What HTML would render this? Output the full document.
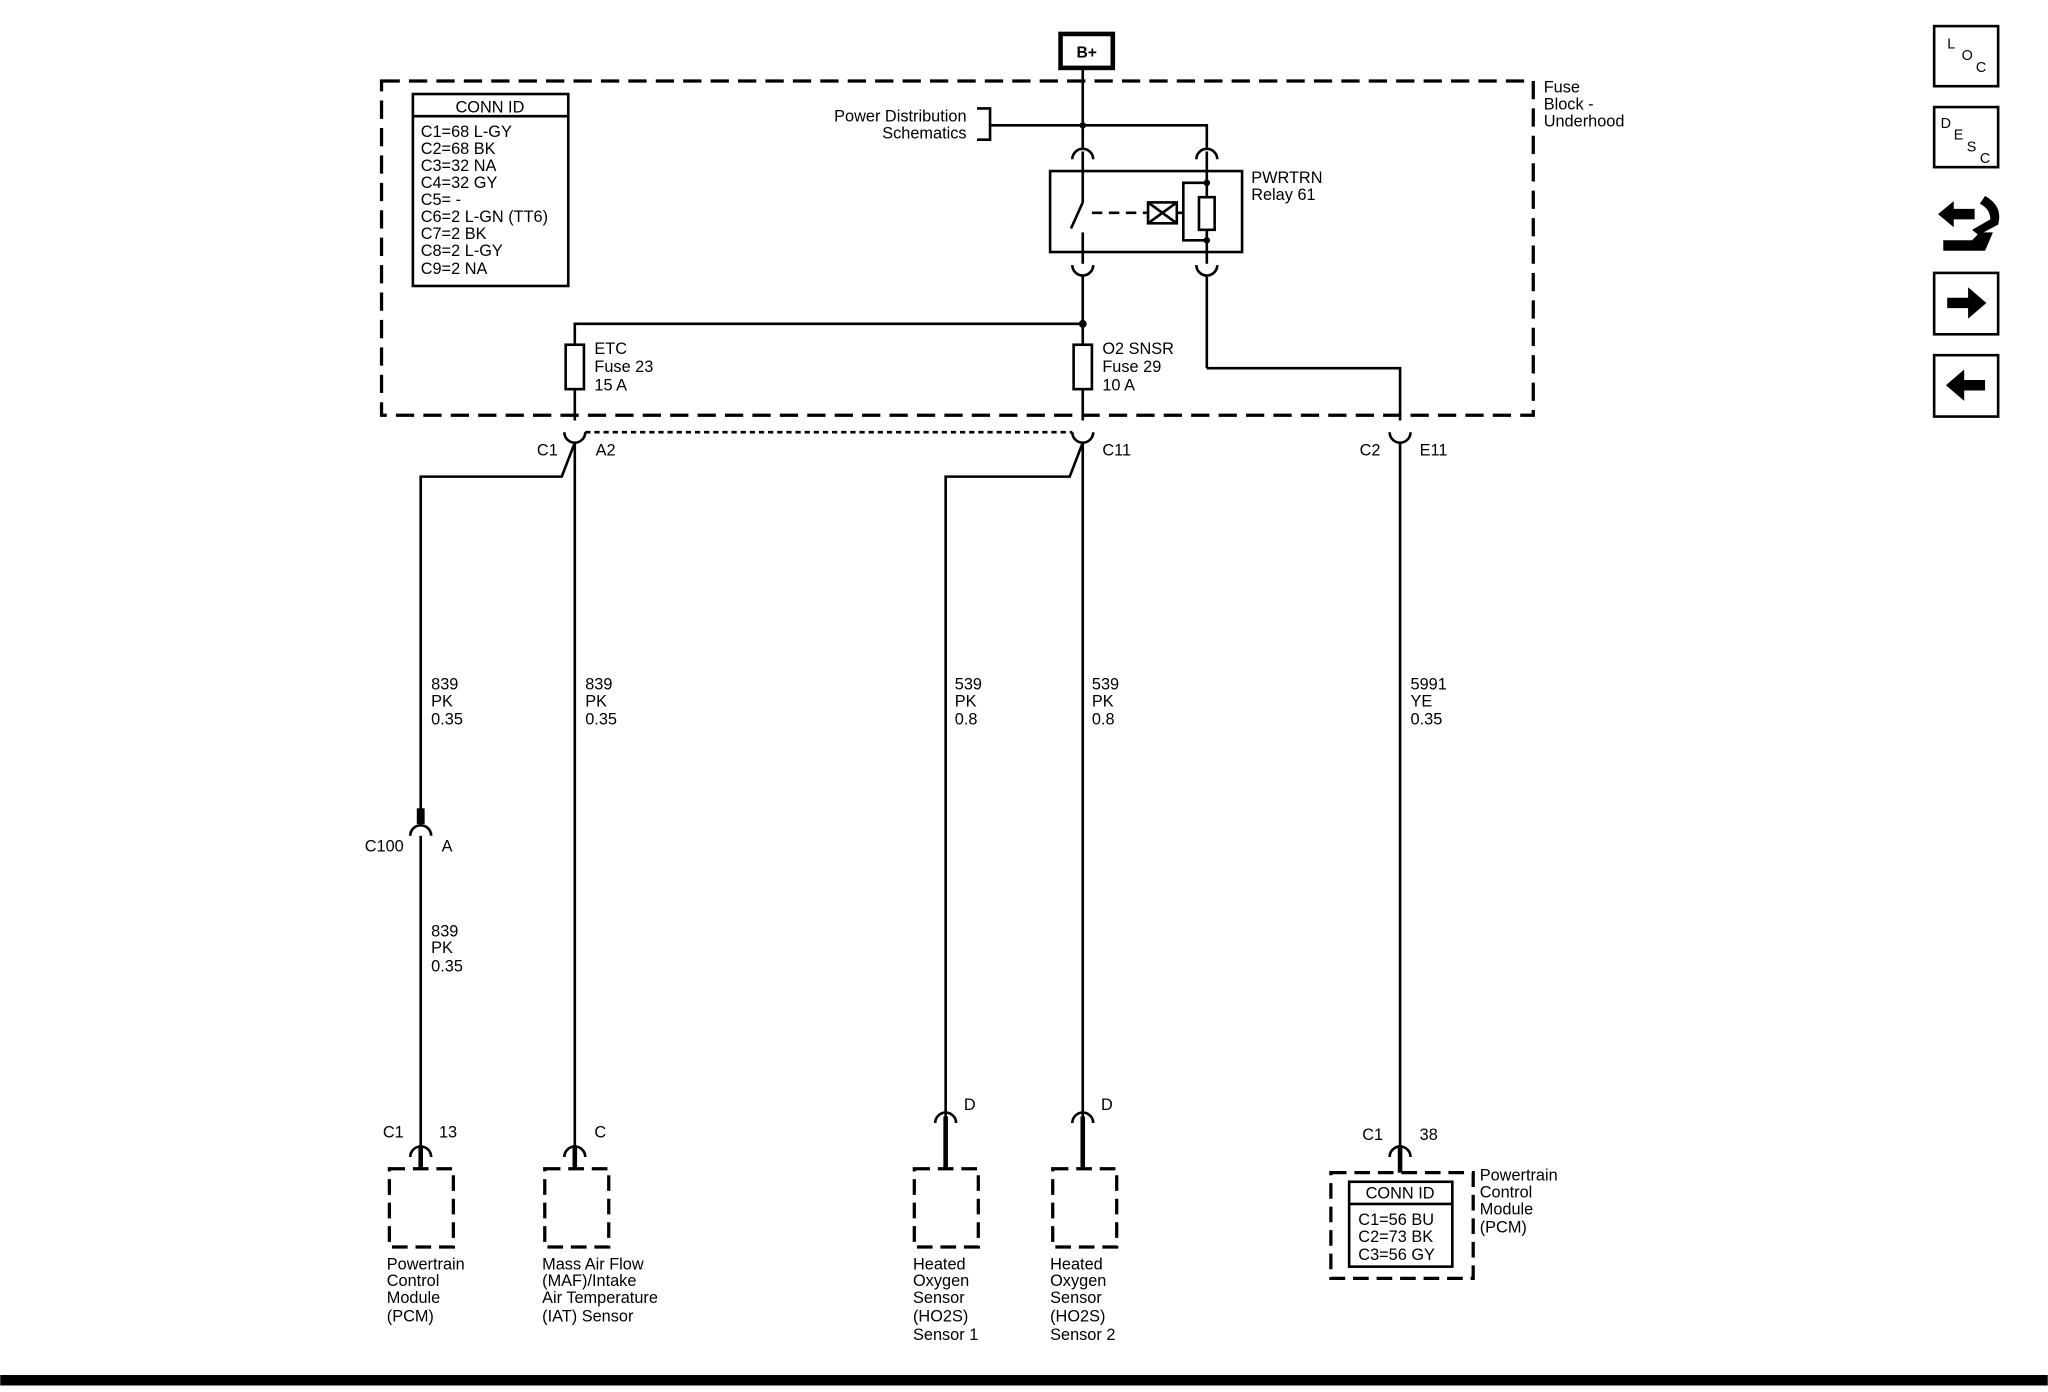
<!DOCTYPE html>
<html><head><meta charset="utf-8"><style>
html,body{margin:0;padding:0;background:#fff;}
svg{display:block;}
text{font-family:"Liberation Sans",Arial,sans-serif;font-size:12.5px;fill:#000;}
</style></head><body>
<svg width="2048" height="1392" viewBox="0 0 1568 1066" xmlns="http://www.w3.org/2000/svg">
<g stroke="#000" fill="none" stroke-width="2">
<!-- B+ -->
<rect x="812" y="26" width="40" height="26" stroke-width="3.5"/>
<!-- fuse block -->
<rect x="292" y="62" width="882" height="256" stroke-dasharray="14,7" stroke-width="2.5"/>
<!-- conn id table -->
<rect x="316" y="72" width="119" height="147"/>
<line x1="316" y1="89" x2="435" y2="89"/>
<!-- main vertical -->
<line x1="829" y1="52" x2="829" y2="113"/>
<!-- power dist bracket -->
<path d="M748 83 H758 V107 H748 M758 96 H924 V113"/>
<!-- connectors top -->
<path d="M821 122 A8 8 0 0 1 837 122 M916 122 A8 8 0 0 1 932 122"/>
<line x1="829" y1="116" x2="829" y2="155"/>
<line x1="924" y1="116" x2="924" y2="151"/>
<!-- relay -->
<rect x="804" y="131" width="147" height="62"/>
<line x1="829" y1="155" x2="820" y2="175"/>
<line x1="829" y1="178" x2="829" y2="202"/>
<line x1="836" y1="163" x2="878" y2="163" stroke-dasharray="8,5"/>
<rect x="879" y="155" width="22" height="16"/>
<path d="M879 155 L901 171 M901 155 L879 171"/>
<rect x="918" y="151" width="12" height="25"/>
<path d="M924 176 V202 M924 140 H906 V184 H924"/>
<line x1="901" y1="163" x2="906" y2="163"/>
<path d="M821 203 A8 8 0 0 0 837 203 M916 203 A8 8 0 0 0 932 203"/>
<line x1="829" y1="211" x2="829" y2="264"/>
<line x1="924" y1="211" x2="924" y2="282"/>
<path d="M924 282 H1072 V322"/>
<!-- etc line -->
<path d="M829 248 H440 V264"/>
<rect x="433" y="264" width="14" height="34"/>
<rect x="822" y="264" width="14" height="34"/>
<line x1="440" y1="298" x2="440" y2="322"/>
<line x1="829" y1="298" x2="829" y2="322"/>
<!-- lower connectors -->
<path d="M432 331 A8 8 0 0 0 448 331 M821 331 A8 8 0 0 0 837 331 M1064 331 A8 8 0 0 0 1080 331"/>
<line x1="448" y1="331" x2="821" y2="331" stroke-dasharray="4,3"/>
<path d="M440 339 V880 M440 339 L430 365 H322 V625"/>
<path d="M829 339 V855 M829 339 L819 365 H724 V855"/>
<line x1="1072" y1="339" x2="1072" y2="877"/>
<!-- C100 -->
<rect x="320" y="620" width="4" height="10" fill="#000"/>
<path d="M314 640 A8 8 0 0 1 330 640"/>
<line x1="322" y1="640" x2="322" y2="877"/>
<!-- bottom connectors -->
<path d="M314 886 A8 8 0 0 1 330 886 M432 886 A8 8 0 0 1 448 886 M716 860 A8 8 0 0 1 732 860 M821 860 A8 8 0 0 1 837 860 M1064 886 A8 8 0 0 1 1080 886"/>
<g stroke-width="3.5">
<line x1="322" y1="877" x2="322" y2="895"/><line x1="440" y1="877" x2="440" y2="895"/>
<line x1="724" y1="855" x2="724" y2="895"/><line x1="829" y1="855" x2="829" y2="895"/>
<line x1="1072" y1="877" x2="1072" y2="898"/>
</g>
<g stroke-dasharray="12,6" stroke-width="2.5">
<rect x="298" y="895" width="49" height="60"/>
<rect x="417" y="895" width="49" height="60"/>
<rect x="700" y="895" width="49" height="60"/>
<rect x="806" y="895" width="49" height="60"/>
<rect x="1019" y="898" width="109" height="81"/>
</g>
<rect x="1033" y="905" width="79" height="65"/>
<line x1="1033" y1="922" x2="1112" y2="922"/>
<!-- right icons -->
<rect x="1481" y="20" width="49" height="46"/>
<rect x="1481" y="82" width="49" height="46"/>
<rect x="1481" y="209" width="49" height="47"/>
<rect x="1481" y="272" width="49" height="47"/>
</g>
<g fill="#000">
<circle cx="829" cy="96" r="2.5"/><circle cx="924" cy="140" r="2.5"/><circle cx="924" cy="184" r="2.5"/><circle cx="829" cy="248" r="3"/>
<path d="M1491 228 H1507 V220 L1521 232 L1507 244 V236 H1491 Z"/>
<path d="M1520 291 H1504 V283 L1490 295 L1504 307 V299 H1520 Z"/>
<path d="M1484 164 L1496 154 V160 H1512 V168 H1496 V174 Z"/>
<path d="M1520 150 Q1534 158 1530 172 L1515 180 L1510 176 L1524 168 Q1524 160 1516 156 Z"/>
<path d="M1488 184 H1510 L1516 178 H1526 L1520 192 H1488 Z"/>
<rect x="0" y="1053" width="1568" height="8"/>
</g>
<text x="832" y="44" text-anchor="middle" font-weight="bold" style="font-size:12px">B+</text>
<text x="375" y="86" text-anchor="middle">CONN ID</text>
<g>
<text x="322" y="105">C1=68 L-GY</text><text x="322" y="118">C2=68 BK</text><text x="322" y="131">C3=32 NA</text>
<text x="322" y="144">C4=32 GY</text><text x="322" y="157">C5= -</text><text x="322" y="170">C6=2 L-GN (TT6)</text>
<text x="322" y="183">C7=2 BK</text><text x="322" y="196">C8=2 L-GY</text><text x="322" y="210">C9=2 NA</text>
</g>
<text x="740" y="93" text-anchor="end">Power Distribution</text>
<text x="740" y="106" text-anchor="end">Schematics</text>
<text x="1182" y="71">Fuse</text><text x="1182" y="84">Block -</text><text x="1182" y="97">Underhood</text>
<text x="958" y="140">PWRTRN</text><text x="958" y="153">Relay 61</text>
<text x="455" y="271">ETC</text><text x="455" y="285">Fuse 23</text><text x="455" y="299">15 A</text>
<text x="844" y="271">O2 SNSR</text><text x="844" y="285">Fuse 29</text><text x="844" y="299">10 A</text>
<text x="411" y="349">C1</text><text x="456" y="349">A2</text><text x="844" y="349">C11</text>
<text x="1041" y="349">C2</text><text x="1087" y="349">E11</text>
<text x="330" y="528">839</text><text x="330" y="541">PK</text><text x="330" y="555">0.35</text>
<text x="448" y="528">839</text><text x="448" y="541">PK</text><text x="448" y="555">0.35</text>
<text x="731" y="528">539</text><text x="731" y="541">PK</text><text x="731" y="555">0.8</text>
<text x="836" y="528">539</text><text x="836" y="541">PK</text><text x="836" y="555">0.8</text>
<text x="1080" y="528">5991</text><text x="1080" y="541">YE</text><text x="1080" y="555">0.35</text>
<text x="309" y="652" text-anchor="end">C100</text><text x="338" y="652">A</text>
<text x="330" y="717">839</text><text x="330" y="730">PK</text><text x="330" y="744">0.35</text>
<text x="293" y="871">C1</text><text x="336" y="871">13</text><text x="455" y="871">C</text>
<text x="738" y="850">D</text><text x="843" y="850">D</text>
<text x="1043" y="873">C1</text><text x="1087" y="873">38</text>
<text x="1072" y="918" text-anchor="middle">CONN ID</text>
<text x="1040" y="938">C1=56 BU</text><text x="1040" y="951">C2=73 BK</text><text x="1040" y="965">C3=56 GY</text>
<text x="1133" y="904">Powertrain</text><text x="1133" y="917">Control</text><text x="1133" y="930">Module</text><text x="1133" y="944">(PCM)</text>
<text x="296" y="972">Powertrain</text><text x="296" y="985">Control</text><text x="296" y="998">Module</text><text x="296" y="1012">(PCM)</text>
<text x="415" y="972">Mass Air Flow</text><text x="415" y="985">(MAF)/Intake</text><text x="415" y="998">Air Temperature</text><text x="415" y="1012">(IAT) Sensor</text>
<text x="699" y="972">Heated</text><text x="699" y="985">Oxygen</text><text x="699" y="998">Sensor</text><text x="699" y="1012">(HO2S)</text><text x="699" y="1026">Sensor 1</text>
<text x="804" y="972">Heated</text><text x="804" y="985">Oxygen</text><text x="804" y="998">Sensor</text><text x="804" y="1012">(HO2S)</text><text x="804" y="1026">Sensor 2</text>
<text x="1491" y="37" style="font-size:11px">L</text><text x="1502" y="46" style="font-size:11px">O</text><text x="1513" y="55" style="font-size:11px">C</text>
<text x="1486" y="98" style="font-size:11px">D</text><text x="1496" y="107" style="font-size:11px">E</text><text x="1506" y="116" style="font-size:11px">S</text><text x="1516" y="125" style="font-size:11px">C</text>
</svg>
</body></html>
